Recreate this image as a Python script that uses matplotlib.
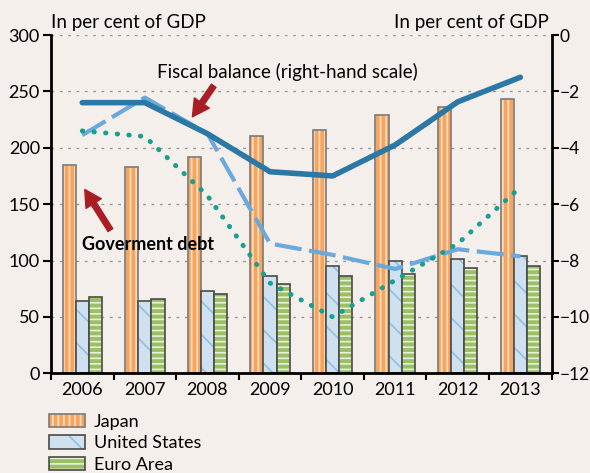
"""Government debt and fiscal balance chart."""
import matplotlib

matplotlib.use("Agg")
import matplotlib.pyplot as plt
import numpy as np

plt.rcParams["font.family"] = ["Lato", "DejaVu Sans"]
plt.rcParams["hatch.linewidth"] = 1.2

years = ["2006", "2007", "2008", "2009", "2010", "2011", "2012", "2013"]

# government debt, left scale
debt_japan = [185, 183, 192, 210, 216, 229, 236, 243]
debt_us = [64, 64, 73, 86, 95, 100, 101, 104]
debt_euro = [68, 66, 70, 79, 86, 88, 93, 95]

# fiscal balance, right scale
bal_japan = [-2.4, -2.4, -3.5, -4.85, -5.0, -3.9, -2.37, -1.5]
bal_us = [-3.55, -2.22, -3.5, -7.4, -7.8, -8.3, -7.6, -7.85]
bal_euro = [-3.4, -3.6, -5.7, -8.8, -10.0, -8.7, -7.4, -5.4]

bg = "#f5efec"
orange = "#f8a45f"
light_blue = "#cfe0ee"
green = "#9bbf64"
dark_blue = "#2b78a4"
dash_blue = "#6aa9dc"
teal = "#17a08f"
arrow_red = "#a81e24"

fig = plt.figure(figsize=(5.9, 4.73), dpi=100, facecolor=bg)
ax = fig.add_axes([0.0864, 0.2108, 0.8486, 0.7152], facecolor=bg)
x = np.arange(len(years))
w = 0.21

b1 = ax.bar(x - w, debt_japan, w, color=orange, edgecolor="#7a7a7a", hatch="|||", linewidth=1.2, zorder=2, label="Japan")
b2 = ax.bar(x, debt_us, w, color=light_blue, edgecolor="#4a4a4a", hatch="\\", linewidth=1.2, zorder=2, label="United States")
b3 = ax.bar(x + w, debt_euro, w, color=green, edgecolor="#4a4a4a", hatch="---", linewidth=1.2, zorder=2, label="Euro Area")
# hatch colours
for b in b1:
    b._hatch_color = matplotlib.colors.to_rgba("#fde0c2")
for b in b2:
    b._hatch_color = matplotlib.colors.to_rgba("#8ec0e4")
for b in b3:
    b._hatch_color = matplotlib.colors.to_rgba("#e8f0d8")

ax.set_xlim(-0.5, len(years) - 0.5)
ax.set_ylim(0, 300)
ax.set_yticks(range(0, 301, 50))
ax.set_xticks(x)
ax.set_xticklabels(years)
ax.set_xticks(np.arange(-0.5, len(years), 1), minor=True)
ax.tick_params(axis="x", which="major", length=0, labelsize=13, pad=6)
ax.tick_params(axis="x", which="minor", length=5, width=1.5, direction="out")
ax.tick_params(axis="y", length=5.5, width=1.5, labelsize=13, pad=2.5)
for yv in range(50, 301, 50):
    ax.axhline(yv, color="#999999", linestyle=(0, (2, 4)), linewidth=1, zorder=1)
for s in ["top", "right"]:
    ax.spines[s].set_visible(False)
for s in ["left", "bottom"]:
    ax.spines[s].set_linewidth(2)

ax2 = ax.twinx()
ax2.set_ylim(-12, 0)
ax2.set_yticks(range(-12, 1, 2))
ax2.set_yticklabels(["\u221212", "\u221210", "\u22128", "\u22126", "\u22124", "\u22122", "0"])
ax2.tick_params(axis="y", length=5, width=1.5, labelsize=12.5, pad=0.5)
for s in ["top", "left", "bottom"]:
    ax2.spines[s].set_visible(False)
ax2.spines["right"].set_linewidth(2)

ax2.plot(x, bal_us, color=dash_blue, linewidth=3, dashes=(6.5, 1.8), zorder=3)
ax2.plot(x, bal_euro, color=teal, linewidth=3.5, linestyle=(0, (0.1, 2.3)), dash_capstyle="round", zorder=3)
ax2.plot(x, bal_japan, color=dark_blue, linewidth=4, solid_capstyle="round", zorder=4)

fig.text(0.0864, 0.953, "In per cent of GDP", fontsize=13.5, ha="left", va="center")
fig.text(0.93, 0.953, "In per cent of GDP", fontsize=13.5, ha="right", va="center")

ax2.text(3.27, -1.31, "Fiscal balance (right-hand scale)", fontsize=13.5, ha="center", va="center")
ax.text(-0.01, 114, "Goverment debt", fontsize=13, ha="left", va="center", fontweight="bold")

ax2.annotate("", xy=(1.76, -2.9), xytext=(2.1, -1.8),
             arrowprops=dict(facecolor=arrow_red, edgecolor=arrow_red, width=4, headwidth=13, headlength=12))
ax.annotate("", xy=(0.04, 163), xytext=(0.45, 127),
            arrowprops=dict(facecolor=arrow_red, edgecolor=arrow_red, width=4, headwidth=13, headlength=12))

fig.legend(handles=[b1, b2, b3], loc="upper left", bbox_to_anchor=(0.083, 0.125), frameon=False,
           fontsize=13, handlelength=2.0, handleheight=0.75, handletextpad=0.5, labelspacing=0.3,
           borderpad=0, borderaxespad=0)

fig.savefig("out.png", dpi=100, facecolor=bg)
